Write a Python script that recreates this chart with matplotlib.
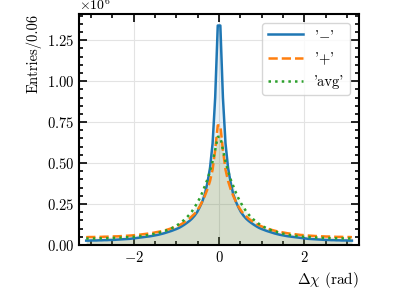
import numpy as np
import matplotlib
matplotlib.use('Agg')
import matplotlib.pyplot as plt
from matplotlib.ticker import MultipleLocator, AutoMinorLocator

plt.rcParams['font.family'] = 'serif'
plt.rcParams['font.serif'] = ['cmr10', 'DejaVu Serif']
plt.rcParams['mathtext.fontset'] = 'cm'
plt.rcParams['axes.formatter.use_mathtext'] = True
plt.rcParams['axes.unicode_minus'] = True

# bin edges: 104 bins of ~0.06 over [-pi, pi]
edges = np.linspace(-np.pi, np.pi, 105)
centers = 0.5 * (edges[1:] + edges[:-1])

# entries per bin (x 10^6), from x = -3.11 to 3.11
minus = [0.026, 0.026, 0.027, 0.027, 0.027, 0.028, 0.028, 0.029, 0.029, 0.030,
         0.030, 0.031, 0.032, 0.033, 0.034, 0.035, 0.036, 0.037, 0.039, 0.041,
         0.043, 0.045, 0.047, 0.049, 0.051, 0.053, 0.056, 0.059, 0.062, 0.066,
         0.070, 0.075, 0.080, 0.085, 0.091, 0.097, 0.104, 0.113, 0.123, 0.134,
         0.146, 0.160, 0.178, 0.200, 0.230, 0.265, 0.310, 0.380, 0.470, 0.620,
         0.900, 1.340,
         1.340, 0.900, 0.620, 0.470, 0.380, 0.310, 0.265, 0.230, 0.200, 0.178,
         0.160, 0.146, 0.134, 0.123, 0.113, 0.104, 0.097, 0.091, 0.085, 0.080,
         0.075, 0.070, 0.066, 0.062, 0.059, 0.056, 0.053, 0.051, 0.049, 0.047,
         0.045, 0.043, 0.041, 0.039, 0.037, 0.036, 0.035, 0.034, 0.033, 0.032,
         0.031, 0.030, 0.030, 0.029, 0.029, 0.028, 0.028, 0.027, 0.027, 0.027,
         0.026, 0.026]
plus = [0.047, 0.048, 0.048, 0.048, 0.049, 0.049, 0.049, 0.050, 0.050, 0.051,
        0.051, 0.052, 0.052, 0.053, 0.054, 0.055, 0.056, 0.057, 0.058, 0.060,
        0.061, 0.063, 0.065, 0.067, 0.069, 0.071, 0.074, 0.077, 0.080, 0.083,
        0.087, 0.091, 0.096, 0.101, 0.107, 0.113, 0.120, 0.128, 0.138, 0.148,
        0.160, 0.175, 0.190, 0.210, 0.235, 0.265, 0.300, 0.340, 0.390, 0.460,
        0.580, 0.730,
        0.730, 0.580, 0.460, 0.390, 0.340, 0.300, 0.265, 0.235, 0.210, 0.190,
        0.175, 0.160, 0.148, 0.138, 0.128, 0.120, 0.113, 0.107, 0.101, 0.096,
        0.091, 0.087, 0.083, 0.080, 0.077, 0.074, 0.071, 0.069, 0.067, 0.065,
        0.063, 0.061, 0.060, 0.058, 0.057, 0.056, 0.055, 0.054, 0.053, 0.052,
        0.052, 0.051, 0.051, 0.050, 0.050, 0.049, 0.049, 0.049, 0.048, 0.048,
        0.048, 0.047]
avg = [0.039, 0.039, 0.039, 0.039, 0.040, 0.040, 0.040, 0.041, 0.041, 0.042,
       0.042, 0.043, 0.043, 0.044, 0.045, 0.046, 0.047, 0.048, 0.049, 0.050,
       0.052, 0.054, 0.056, 0.058, 0.060, 0.063, 0.066, 0.069, 0.073, 0.078,
       0.083, 0.088, 0.094, 0.101, 0.109, 0.118, 0.128, 0.140, 0.153, 0.168,
       0.185, 0.205, 0.230, 0.255, 0.285, 0.320, 0.360, 0.400, 0.450, 0.510,
       0.580, 0.660,
       0.660, 0.580, 0.510, 0.450, 0.400, 0.360, 0.320, 0.285, 0.255, 0.230,
       0.205, 0.185, 0.168, 0.153, 0.140, 0.128, 0.118, 0.109, 0.101, 0.094,
       0.088, 0.083, 0.078, 0.073, 0.069, 0.066, 0.063, 0.060, 0.058, 0.056,
       0.054, 0.052, 0.050, 0.049, 0.048, 0.047, 0.046, 0.045, 0.044, 0.043,
       0.043, 0.042, 0.042, 0.041, 0.041, 0.040, 0.040, 0.040, 0.039, 0.039,
       0.039, 0.039]

labels = ["'$-$'", "'$+$'", "'avg'"]
series = [minus, plus, avg]
styles = ['-', '--', ':']
colors = ['C0', 'C1', 'C2']

fig = plt.figure(figsize=(3.99, 2.99), dpi=100)
ax = fig.add_axes([0.198, 0.181, 0.702, 0.772])

for vals, lab, ls, c in zip(series, labels, styles, colors):
    v = np.array(vals) * 1e6
    ax.fill_between(centers, v, color=c, alpha=0.1, linewidth=0)
    ax.plot(centers, v, color=c, linestyle=ls, linewidth=1.8, label=lab)

ax.set_xlim(-3.28, 3.28)
ax.set_ylim(0, 1.41e6)
ax.xaxis.set_major_locator(MultipleLocator(2))
ax.xaxis.set_minor_locator(MultipleLocator(0.5))
ax.yaxis.set_major_locator(MultipleLocator(0.25e6))
ax.yaxis.set_minor_locator(AutoMinorLocator(5))
ax.tick_params(which='both', direction='in', top=True, right=True, width=1.2, labelsize=10.5)
ax.tick_params(which='major', length=6)
ax.tick_params(which='minor', length=3)
for s in ax.spines.values():
    s.set_linewidth(1.5)
ax.grid(True, color='#e3e3e3', linewidth=0.8)
ax.set_axisbelow(True)

ax.set_xlabel(r'$\Delta\chi$ (rad)', loc='right', fontsize=11)
ax.set_ylabel('Entries/0.06', loc='top', fontsize=10.5)

ax.legend(loc='upper right', fontsize=10.5, handlelength=2.4, labelspacing=0.55,
          framealpha=0.8, borderaxespad=0.6)

plt.savefig('out.png', format='png', dpi=100)
